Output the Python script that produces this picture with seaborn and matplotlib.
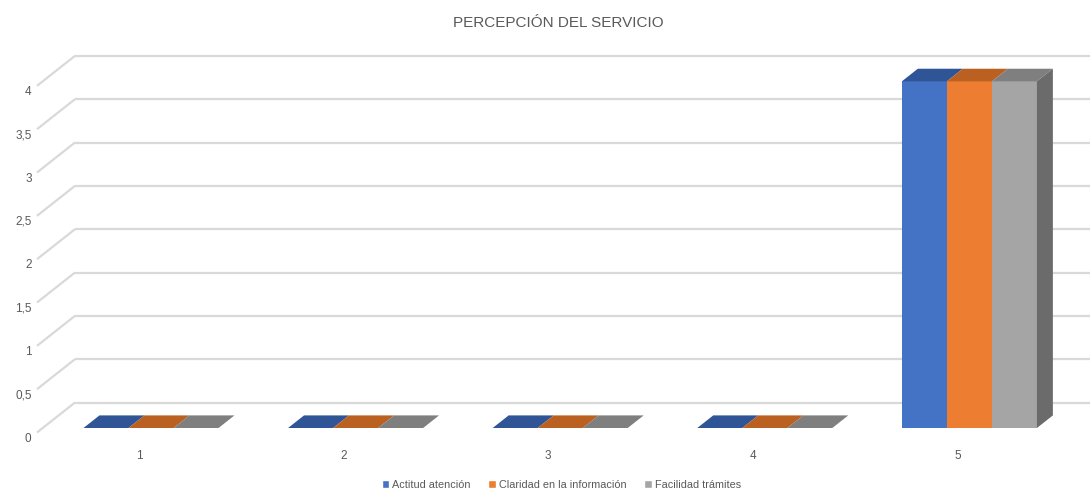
import pandas as pd
import matplotlib.pyplot as plt
import seaborn as sns
from matplotlib.patches import Polygon, Patch
from matplotlib.transforms import ScaledTranslation

sns.set_theme(style="white")
plt.rcParams['font.family'] = ['Liberation Sans', 'DejaVu Sans']

# datos
categorias = ['1', '2', '3', '4', '5']
actitud = [0, 0, 0, 0, 4]
claridad = [0, 0, 0, 0, 4]
facilidad = [0, 0, 0, 0, 4]
series = ['Actitud atención', 'Claridad en la información', 'Facilidad trámites']
y_ticks = [0, 0.5, 1, 1.5, 2, 2.5, 3, 3.5, 4]
y_labels = ['0', '0,5', '1', '1,5', '2', '2,5', '3', '3,5', '4']

colores = ['#4472C4', '#ED7D31', '#A5A5A5']
colores_top = ['#2F5597', '#BA6020', '#7F7F7F']
color_lado = '#6B6B6B'
gris_texto = '#595959'
gris_grid = '#D9D9D9'

df = pd.DataFrame({
    'cat': categorias * 3,
    'valor': actitud + claridad + facilidad,
    'serie': [s for s in series for _ in categorias],
})

fig = plt.figure(figsize=(10.9, 4.92), dpi=100)
ax = fig.add_axes([48.7 / 1090, 64 / 492, 1023 / 1090, 390 / 492])

sns.barplot(data=df, x='cat', y='valor', hue='serie', palette=colores,
            width=0.66, saturation=1, errorbar=None, ax=ax, zorder=3,
            linewidth=0)
ax.get_legend().remove()
ax.set_xlim(-0.5, 4.5)
ax.set_ylim(0, 4.5)

# pixeles por unidad de datos
sx = 1023 / 5.0
sy = 390 / 4.5

# vector de profundidad (pixeles) y planos
D = (38, 30)
def px(dx, dy):
    return dx / sx, dy / sy

fx, fy = px(-0.15 * D[0], -0.15 * D[1])     # plano frontal
bx, by = px(0.85 * D[0], 0.85 * D[1])       # plano trasero
tx, ty = px(0.42 * D[0], 0.42 * D[1])       # profundidad de barras

# rejilla: diagonal izquierda + linea trasera
esquina = -0.5 - 6 / sx
x_fin = -0.5 + (1090 - 48.7) / sx - bx
for v in y_ticks:
    ax.plot([esquina + fx, esquina + bx], [v + fy, v + by], color=gris_grid,
            lw=1.6, clip_on=False, zorder=1, solid_capstyle='butt')
    ax.plot([esquina + bx, x_fin + bx], [v + by, v + by], color=gris_grid,
            lw=1.6, clip_on=False, zorder=1, solid_capstyle='butt')

# caras 3D de las barras
barras = [p for p in ax.patches if isinstance(p, plt.Rectangle) and p.get_width() > 0]
n_cat = len(categorias)
for i, b in enumerate(barras):
    serie_i = i // n_cat
    x0, w, h = b.get_x(), b.get_width(), b.get_height()
    top = Polygon([(x0, h), (x0 + w, h), (x0 + w + tx, h + ty), (x0 + tx, h + ty)],
                  closed=True, facecolor=colores_top[serie_i], edgecolor='none', zorder=4)
    ax.add_patch(top)
    if serie_i == len(series) - 1 and h > 0:
        lado = Polygon([(x0 + w, 0), (x0 + w, h), (x0 + w + tx, h + ty), (x0 + w + tx, ty)],
                       closed=True, facecolor=color_lado, edgecolor='none', zorder=4)
        ax.add_patch(lado)

# ejes
for s in ax.spines.values():
    s.set_visible(False)
ax.set_xlabel('')
ax.set_ylabel('')
ax.set_yticks(y_ticks)
ax.set_yticklabels(y_labels)
ax.tick_params(axis='both', length=0, labelsize=8.5, labelcolor=gris_texto)
ax.tick_params(axis='y', pad=8)
ax.tick_params(axis='x', pad=16)
for lab in ax.get_yticklabels():
    lab.set_transform(lab.get_transform() + ScaledTranslation(-0.06, -0.09, fig.dpi_scale_trans))
for lab in ax.get_xticklabels():
    lab.set_transform(lab.get_transform() + ScaledTranslation(-0.12, 0, fig.dpi_scale_trans))

fig.text(0.512, 0.953, 'PERCEPCIÓN DEL SERVICIO', ha='center', va='center',
         fontsize=11, color=gris_texto)

handles = [Patch(facecolor=c, label=s) for c, s in zip(colores, series)]
fig.legend(handles=handles, loc='center', bbox_to_anchor=(0.515, 0.015), ncol=3,
           frameon=False, fontsize=7.8, handlelength=0.7, handleheight=0.7,
           handletextpad=0.3, columnspacing=1.6, labelcolor=gris_texto)

fig.savefig('out.png', dpi=100)
